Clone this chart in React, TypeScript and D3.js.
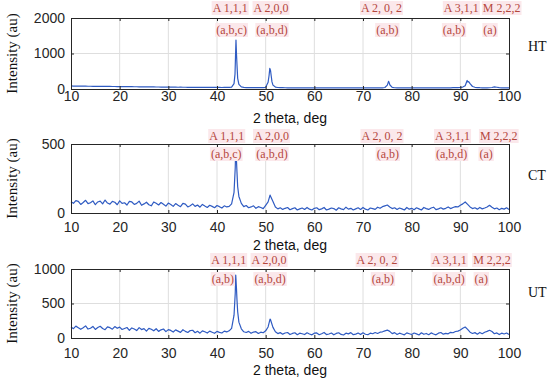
import React, { useEffect, useRef } from 'react';
import * as d3 from 'd3';

// 2-theta grid: base arrays hold one value every 0.5 deg from 10 to 100
const thetaTicks = [10, 20, 30, 40, 50, 60, 70, 80, 90, 100];
const panelNames = ['HT', 'CT', 'UT'];

const htBase = [
  86, 82, 84, 80, 81, 79, 80, 77, 78, 76, 77, 74, 75, 73, 74, 72, 72, 70, 71, 69,
  68, 69, 66, 67, 65, 66, 63, 64, 62, 63, 60, 61, 59, 58, 59, 56, 57, 55, 56, 54,
  55, 53, 54, 52, 50, 52, 49, 50, 48, 49, 47, 48, 46, 47, 45, 46, 44, 45, 43, 44,
  43, 44, 42, 43, 44, 46, 55, 150, 1000, 130, 60, 45, 40, 38, 37, 36, 36, 37, 36, 38,
  48, 190, 520, 110, 55, 42, 38, 36, 35, 34, 34, 33, 34, 33, 32, 33, 32, 31, 32, 31,
  31, 32, 30, 31, 31, 30, 31, 29, 30, 31, 30, 29, 30, 30, 29, 30, 29, 30, 29, 30,
  29, 30, 29, 30, 30, 31, 31, 32, 34, 42, 110, 120, 45, 35, 32, 31, 30, 30, 29, 30,
  30, 29, 30, 30, 29, 30, 29, 30, 30, 31, 30, 31, 31, 32, 32, 33, 34, 36, 38, 41,
  45, 55, 90, 200, 150, 70, 48, 40, 36, 34, 33, 33, 35, 42, 58, 50, 38, 33, 31, 30,
  29,
];
const htPeaks: [number, number][] = [
  [43.7, 420], [43.8, 900], [43.9, 1380], [44.1, 700], [44.25, 300],
  [50.7, 380], [50.85, 580], [51.15, 360], [51.3, 200],
  [75.25, 215], [75.4, 170],
  [91.4, 240], [91.7, 210],
];

const ctBase = [
  82, 70, 90, 84, 62, 76, 92, 68, 74, 88, 60, 80, 86, 66, 94, 72, 64, 84, 78, 60,
  88, 70, 74, 58, 84, 80, 62, 70, 86, 56, 66, 78, 60, 52, 80, 70, 58, 76, 64, 50,
  72, 62, 48, 68, 56, 46, 70, 64, 44, 52, 66, 48, 58, 42, 62, 50, 40, 56, 48, 38,
  54, 46, 36, 52, 44, 48, 66, 150, 380, 120, 70, 46, 54, 38, 44, 52, 34, 46, 40, 32,
  56, 80, 122, 84, 44, 30, 38, 26, 34, 40, 24, 32, 38, 22, 30, 36, 26, 40, 28, 22,
  34, 38, 24, 30, 40, 22, 28, 36, 32, 20, 38, 30, 24, 42, 28, 34, 22, 30, 38, 26,
  40, 28, 22, 36, 32, 26, 42, 34, 46, 52, 58, 44, 32, 38, 26, 36, 30, 22, 40, 28,
  34, 24, 38, 30, 22, 40, 32, 26, 36, 42, 24, 30, 38, 28, 34, 44, 32, 40, 46, 44,
  56, 66, 80, 62, 44, 32, 38, 28, 40, 30, 36, 44, 56, 42, 30, 36, 24, 34, 28, 38,
  26,
];
const ctPeaks: [number, number][] = [
  [43.75, 330], [43.85, 469], [44.1, 300], [44.25, 190],
  [50.9, 130],
];

const utBase = [
  160, 135, 172, 150, 126, 148, 176, 130, 142, 168, 124, 152, 170, 138, 120, 162, 150, 128, 166, 140,
  158, 124, 138, 152, 112, 146, 130, 108, 150, 122, 136, 100, 140, 126, 104, 134, 96, 118, 130, 92,
  122, 110, 86, 118, 100, 82, 120, 96, 80, 108, 112, 76, 98, 70, 104, 90, 72, 100, 84, 68,
  96, 82, 72, 100, 88, 104, 140, 330, 720, 230, 134, 90, 80, 96, 68, 86, 92, 66, 84, 76,
  104, 160, 265, 154, 90, 64, 78, 56, 72, 80, 50, 66, 76, 48, 70, 62, 50, 76, 58, 46,
  70, 74, 48, 62, 80, 50, 58, 72, 46, 66, 76, 52, 44, 70, 60, 78, 48, 56, 72, 50,
  76, 54, 48, 70, 62, 80, 66, 84, 90, 104, 115, 96, 64, 78, 52, 70, 58, 46, 74, 62,
  50, 72, 60, 44, 76, 54, 66, 48, 74, 58, 46, 70, 80, 56, 68, 60, 82, 76, 94, 100,
  116, 140, 159, 124, 84, 66, 78, 56, 80, 62, 84, 96, 112, 94, 62, 74, 50, 70, 58, 72,
  50,
];
const utPeaks: [number, number][] = [
  [43.75, 650], [43.85, 913], [44.1, 560], [44.25, 380],
  [50.9, 275],
];

const yMaxes = [2000, 500, 1000];
const yTickSets = [[0, 1000, 2000], [0, 500], [0, 500, 1000]];

// peak labels: [text, theta, row] (row 0 above the box, row 1 inside)
const htLabels: [string, number, number][] = [
  ['A 1,1,1', 42.7, 0], ['A 2,0,0', 51.1, 0], ['A 2, 0, 2', 73.8, 0], ['A 3,1,1', 90.2, 0], ['M 2,2,2', 98.5, 0],
  ['(a,b,c)', 43.0, 1], ['(a,b,d)', 51.3, 1], ['(a,b)', 75.0, 1], ['(a,b)', 88.7, 1], ['(a)', 96.1, 1],
];
const ctLabels: [string, number, number][] = [
  ['A 1,1,1', 42.0, 0], ['A 2,0,0', 51.2, 0], ['A 2, 0, 2', 73.9, 0], ['A 3,1,1', 88.4, 0], ['M 2,2,2', 97.9, 0],
  ['(a,b,c)', 41.9, 1], ['(a,b,d)', 51.3, 1], ['(a,b)', 75.1, 1], ['(a,b,d)', 88.2, 1], ['(a)', 95.3, 1],
];
const utLabels: [string, number, number][] = [
  ['A 1,1,1', 42.4, 0], ['A 2,0,0', 50.7, 0], ['A 2, 0, 2', 72.9, 0], ['A 3,1,1', 87.7, 0], ['M 2,2,2', 96.5, 0],
  ['(a,b)', 41.2, 1], ['(a,b,d)', 50.9, 1], ['(a,b)', 74.1, 1], ['(a,b,d)', 87.7, 1], ['(a)', 94.3, 1],
];

const bases = [htBase, ctBase, utBase];
const peaks = [htPeaks, ctPeaks, utPeaks];
const labels = [htLabels, ctLabels, utLabels];

// layout per panel
const layout = [
  { top: 18, height: 71, tickPad: 2, xlabDy: 34, nameY: 51, rowDy: [-6, 16] },
  { top: 144, height: 69, tickPad: 9, xlabDy: 37, nameY: 180, rowDy: [-4, 14] },
  { top: 269, height: 69, tickPad: 10, xlabDy: 37, nameY: 297, rowDy: [-5, 14] },
];

const W = 550;
const H = 383;
const plotLeft = 71;
const plotRight = 509;
const sans = "'Liberation Sans', Arial, sans-serif";
const serif = "'Liberation Serif', 'Times New Roman', serif";
const axisColor = '#262626';
const gridColor = '#dedede';
const lineColor = '#2f5bc2';
const labelColor = '#b5473d';
const labelBg = '#fbe8eb';

export default function App() {
  const svgRef = useRef<SVGSVGElement>(null);

  useEffect(() => {
    if (!svgRef.current) return;
    const svg = d3.select(svgRef.current);
    svg.selectAll('*').remove();

    const x = d3.scaleLinear().domain([10, 100]).range([plotLeft, plotRight]);

    layout.forEach((L, i) => {
      const bottom = L.top + L.height;
      const y = d3.scaleLinear().domain([0, yMaxes[i]]).range([bottom, L.top]);
      const g = svg.append('g');

      // Gridlines
      g.append('g')
        .selectAll('line')
        .data(thetaTicks.slice(1, -1))
        .join('line')
        .attr('x1', d => x(d)).attr('x2', d => x(d))
        .attr('y1', L.top).attr('y2', bottom)
        .attr('stroke', gridColor);
      g.append('g')
        .selectAll('line')
        .data(yTickSets[i].slice(1, -1))
        .join('line')
        .attr('x1', plotLeft).attr('x2', plotRight)
        .attr('y1', d => y(d)).attr('y2', d => y(d))
        .attr('stroke', gridColor);

      // Spectrum
      const pts: [number, number][] = bases[i]
        .map((v, k) => [10 + k * 0.5, v] as [number, number])
        .concat(peaks[i])
        .sort((a, b) => a[0] - b[0]);
      const line = d3.line<[number, number]>().x(d => x(d[0])).y(d => y(d[1]));
      g.append('path')
        .datum(pts)
        .attr('fill', 'none')
        .attr('stroke', lineColor)
        .attr('stroke-width', 1.2)
        .attr('stroke-linejoin', 'round')
        .attr('d', line);

      // Axes (MATLAB-like box with inward ticks)
      const styleAxis = (sel: any) => {
        sel.select('.domain').attr('stroke', axisColor);
        sel.selectAll('.tick line').attr('stroke', axisColor);
        sel.selectAll('text').attr('fill', axisColor).attr('font-size', 14).attr('font-family', sans);
        sel.attr('font-family', sans);
      };
      g.append('g')
        .attr('transform', `translate(0,${bottom})`)
        .call(d3.axisBottom(x).tickValues(thetaTicks).tickSizeInner(-3).tickSizeOuter(0).tickPadding(L.tickPad))
        .call(styleAxis);
      g.append('g')
        .attr('transform', `translate(0,${L.top})`)
        .call(d3.axisTop(x).tickValues(thetaTicks).tickSizeInner(-3).tickSizeOuter(0).tickFormat(() => ''))
        .call(styleAxis);
      g.append('g')
        .attr('transform', `translate(${plotLeft},0)`)
        .call(d3.axisLeft(y).tickValues(yTickSets[i]).tickFormat(d3.format('d')).tickSizeInner(-3).tickSizeOuter(0).tickPadding(6))
        .call(styleAxis);
      g.append('g')
        .attr('transform', `translate(${plotRight},0)`)
        .call(d3.axisRight(y).tickValues(yTickSets[i]).tickSizeInner(-3).tickSizeOuter(0).tickFormat(() => ''))
        .call(styleAxis);

      // Axis titles
      g.append('text')
        .attr('x', (plotLeft + plotRight) / 2)
        .attr('y', bottom + L.xlabDy)
        .attr('text-anchor', 'middle')
        .attr('font-family', sans)
        .attr('font-size', 14)
        .attr('fill', '#111')
        .text('2 theta, deg');
      g.append('text')
        .attr('transform', `translate(17,${L.top + L.height / 2}) rotate(-90)`)
        .attr('text-anchor', 'middle')
        .attr('font-family', serif)
        .attr('font-size', 15)
        .attr('fill', '#111')
        .text('Intensity (au)');
      g.append('text')
        .attr('x', 528)
        .attr('y', L.nameY)
        .attr('font-family', serif)
        .attr('font-size', 14)
        .attr('fill', '#111')
        .text(panelNames[i]);

      // Peak labels with pink highlight
      labels[i].forEach(([txt, theta, row]) => {
        const lg = g.append('g');
        const t = lg.append('text')
          .attr('x', x(theta))
          .attr('y', L.top + L.rowDy[row])
          .attr('text-anchor', 'middle')
          .attr('font-family', serif)
          .attr('font-size', 12)
          .attr('fill', labelColor)
          .text(txt);
        const bb = (t.node() as SVGTextElement).getBBox();
        lg.insert('rect', 'text')
          .attr('x', bb.x - 1)
          .attr('y', bb.y)
          .attr('width', bb.width + 2)
          .attr('height', bb.height)
          .attr('fill', labelBg);
      });
    });
  }, []);

  return (
    <svg
      ref={svgRef}
      width={W}
      height={H}
      style={{ position: 'absolute', left: 0, top: 0, background: '#fff' }}
    />
  );
}
